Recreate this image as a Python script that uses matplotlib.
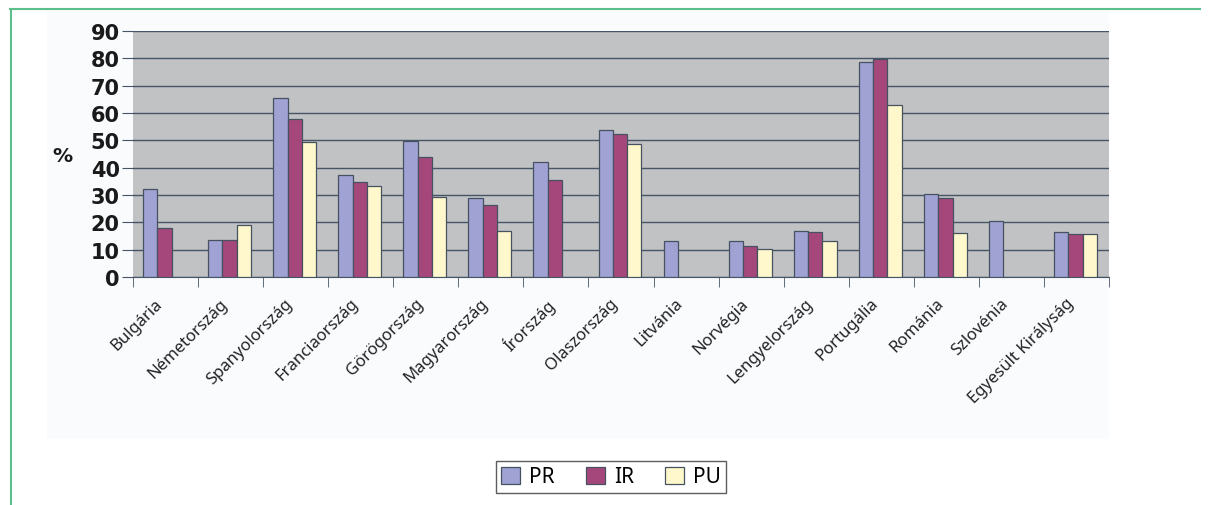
import numpy as np
import matplotlib.pyplot as plt
import matplotlib.transforms as mtransforms
from matplotlib.patches import Rectangle
from matplotlib.lines import Line2D

countries = ["Bulgária", "Németország", "Spanyolország", "Franciaország",
             "Görögország", "Magyarország", "Írország", "Olaszország",
             "Litvánia", "Norvégia", "Lengyelország", "Portugália",
             "Románia", "Szlovénia", "Egyesült Királyság"]
pr = [32.2, 13.7, 65.6, 37.5, 49.8, 28.8, 42.0, 53.8, 13.0, 13.0, 17.0, 78.7, 30.3, 20.4, 16.4]
ir = [17.9, 13.7, 57.8, 34.8, 44.0, 26.3, 35.5, 52.4, np.nan, 11.2, 16.4, 79.9, 29.0, np.nan, 15.8]
pu = [np.nan, 18.9, 49.5, 33.3, 29.3, 17.0, np.nan, 48.7, np.nan, 10.3, 13.0, 62.9, 16.2, np.nan, 15.8]
series = ["PR", "IR", "PU"]
colors = ["#a0a2d4", "#a6477b", "#fff8cc"]

W, H = 1209, 506
fig = plt.figure(figsize=(W / 100, H / 100), dpi=100)
fig.patch.set_facecolor("white")

# light panel behind the chart and green frame lines
fig.patches.append(Rectangle((47 / W, 1 - 440 / H), (1109 - 47) / W, (440 - 12) / H,
                             transform=fig.transFigure, facecolor="#f9fbfd", edgecolor="none",
                             zorder=-10))
fig.lines.append(Line2D([10 / W, 1200 / W], [1 - 10 / H, 1 - 10 / H], transform=fig.transFigure,
                        color="#5cbf8c", lw=1.5, zorder=-5))
fig.lines.append(Line2D([11 / W, 11 / W], [0, 1 - 10 / H], transform=fig.transFigure,
                        color="#5cbf8c", lw=1.5, zorder=-5))

ax = fig.add_axes([133 / W, 1 - 278 / H, (1109 - 133) / W, (278 - 32) / H])
ax.set_facecolor("#c0c2c4")

x = np.arange(len(countries))
bw = 0.22
for i, (vals, c, name) in enumerate(zip([pr, ir, pu], colors, series)):
    ax.bar(x + (i - 1) * bw - 0.015, vals, bw, color=c, edgecolor="#46525f", linewidth=0.9,
           label=name, zorder=3)

ax.set_xlim(-0.5, len(countries) - 0.5)
ax.set_ylim(0, 90)
ax.set_yticks(range(0, 91, 10))
ax.yaxis.grid(True, color="#465566", lw=1.0, zorder=1)
ax.set_axisbelow(True)
for s in ["top", "right", "left"]:
    ax.spines[s].set_visible(False)
ax.spines["bottom"].set_color("#465566")

ax.set_xticks(np.arange(len(countries) + 1) - 0.5, minor=True)
ax.set_xticks(x)
ax.tick_params(axis="x", which="major", length=0, pad=13)
ax.tick_params(axis="x", which="minor", length=7, color="#465566", direction="out")
ax.tick_params(axis="y", length=8, color="#465566", pad=1.5)
ax.set_xticklabels(countries, rotation=45, ha="right", rotation_mode="anchor",
                   fontsize=12, family="Noto Sans", color="#222222")
shift = mtransforms.ScaledTranslation(-11 / 100, 0, fig.dpi_scale_trans)
for lbl in ax.get_xticklabels():
    lbl.set_transform(lbl.get_transform() + shift)
for lbl in ax.get_yticklabels():
    lbl.set_fontsize(15)
    lbl.set_fontweight("bold")
    lbl.set_family("DejaVu Sans")
    lbl.set_color("#1a1a1a")

fig.text(62 / W, 1 - 157 / H, "%", fontsize=14.5, fontweight="bold", family="DejaVu Sans",
         ha="center", va="center", color="#1a1a1a")

leg = fig.legend(loc="center", bbox_to_anchor=(611 / W, 1 - 478 / H), ncol=3, frameon=True,
                 fancybox=False, edgecolor="#333333",
                 prop={"family": "Noto Sans", "size": 15},
                 handlelength=0.9, handleheight=0.9, columnspacing=1.5, handletextpad=0.45,
                 borderpad=0.25, borderaxespad=0)
leg.get_frame().set_linewidth(1.0)
leg._legend_box.align = "center"

fig.savefig("out.png", dpi=100)
